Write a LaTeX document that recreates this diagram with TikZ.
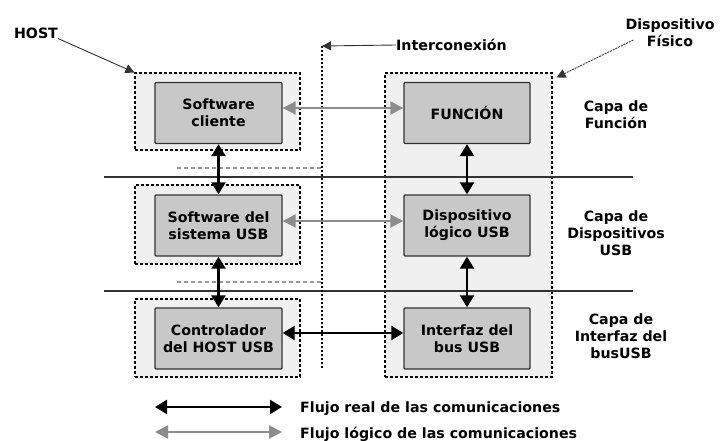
\documentclass[tikz,border=0pt]{standalone}
\usepackage{fontspec}
\setmainfont{DejaVu Sans}
\usetikzlibrary{arrows.meta,calc}
\definecolor{outerfill}{HTML}{F0F0F0}
\definecolor{innerfill}{HTML}{C8C8C8}
\definecolor{edgecol}{HTML}{333333}
\definecolor{logiccol}{HTML}{8C8C8C}
\definecolor{dotcol}{HTML}{999999}
\begin{document}
\begin{tikzpicture}[x=1pt,y=-1pt,
  txt/.style={font=\bfseries\fontsize{14.2}{17}\selectfont, align=center, inner sep=0pt},
  outerbox/.style={draw=black, fill=outerfill, line width=1.1pt, dash pattern=on 3pt off 2pt, inner sep=0pt},
  innerbox/.style={txt, draw=edgecol, fill=innerfill, line width=1.4pt, rounded corners=1pt, minimum width=127pt, minimum height=61pt},
  realflow/.style={line width=2.4pt, black, {Triangle[length=12pt,width=14pt]}-{Triangle[length=12pt,width=14pt]}},
  logicflow/.style={line width=2pt, logiccol, {Triangle[length=13pt,width=13pt]}-{Triangle[length=13pt,width=13pt]}},
  layerline/.style={draw=edgecol, line width=1.2pt},
  hdots/.style={draw=dotcol, line width=1.5pt, dash pattern=on 4pt off 3pt},
  vdots/.style={draw=black, line width=1.3pt, dash pattern=on 2pt off 2pt},
  pointer/.style={draw=edgecol, line width=0.9pt, -{Triangle[length=9pt,width=9pt]}},
]
\useasboundingbox (0,0) rectangle (720,441);

% outer dashed boxes
\node[outerbox, minimum width=165pt, minimum height=77pt] (h1) at (217.5,111.5) {};
\node[outerbox, minimum width=165pt, minimum height=79pt] (h2) at (217.5,224.5) {};
\node[outerbox, minimum width=165pt, minimum height=78pt] (h3) at (217.5,338) {};
\node[outerbox, minimum width=167pt, minimum height=304pt] (dev) at (468.5,225) {};

% layer lines
\coordinate (l1a) at (104,177);
\coordinate (l1b) at (633,177);
\coordinate (l2a) at (104,291);
\coordinate (l2b) at (633,291);
\draw[layerline] (l1a) -- (l1b);
\draw[layerline] (l2a) -- (l2b);

% grey dotted segments
\coordinate (d1a) at (177,168);
\coordinate (d1b) at (322,168);
\coordinate (d2a) at (177,282);
\coordinate (d2b) at (322,282);
\draw[hdots] (d1a) -- (d1b);
\draw[hdots] (d2a) -- (d2b);

% interconnection line
\coordinate (itop) at (322,46);
\coordinate (ibot) at (322,368);
\draw[vdots] (itop) -- (ibot);
\node[txt, anchor=west] (ic) at (396,45) {Interconexión};
\draw[pointer] (ic.west) -- (itop);

% inner boxes
\node[innerbox] (sc) at (218.5,113) {Software\\cliente};
\node[innerbox] (ss) at (218.5,225.5) {Software del\\sistema USB};
\node[innerbox] (hc) at (218.5,338.5) {Controlador\\del HOST USB};
\node[innerbox, minimum width=126pt] (fn) at (467,113) {FUNCIÓN};
\node[innerbox, minimum width=126pt] (dl) at (467,225.5) {Dispositivo\\lógico USB};
\node[innerbox, minimum width=126pt] (ib) at (467,338.5) {Interfaz del\\bus USB};

% vertical real flows
\draw[realflow] (sc.south) -- (ss.north);
\draw[realflow] (ss.south) -- (hc.north);
\draw[realflow] (fn.south) -- (dl.north);
\draw[realflow] (dl.south) -- (ib.north);

% horizontal flows
\draw[logicflow] ([yshift=5pt]sc.east) -- ([yshift=5pt]fn.west);
\draw[logicflow] ([yshift=4.5pt]ss.east) -- ([yshift=4.5pt]dl.west);
\draw[realflow] ([yshift=5.5pt]hc.east) -- ([yshift=5.5pt]ib.west);

% HOST label
\node[txt] (host) at (36,33) {HOST};
\draw[pointer] (host.south east) -- (h1.north west);

% Dispositivo Fisico label
\node[txt] (df) at (670,33) {Dispositivo\\Físico};
\draw[pointer, dash pattern=on 2pt off 1pt] ([shift={(8pt,-7pt)}]df.west) -- ([shift={(4pt,-5pt)}]dev.north east);

% layer labels
\node[txt] (cf) at (616,115) {Capa de\\Función};
\node[txt] (cd) at (616,233) {Capa de\\Dispositivos\\USB};
\node[txt] (ci) at (621,336) {Capa de\\Interfaz del\\busUSB};

% legend
\coordinate (r1) at (155,407);
\coordinate (r2) at (282,407);
\coordinate (g1) at (155,432);
\coordinate (g2) at (282,432);
\draw[realflow] (r1) -- (r2);
\draw[logicflow] (g1) -- (g2);
\node[txt, anchor=west] (lr) at (300,409) {Flujo real de las comunicaciones};
\node[txt, anchor=west] (lg) at (300,434) {Flujo lógico de las comunicaciones};
\end{tikzpicture}
\end{document}
